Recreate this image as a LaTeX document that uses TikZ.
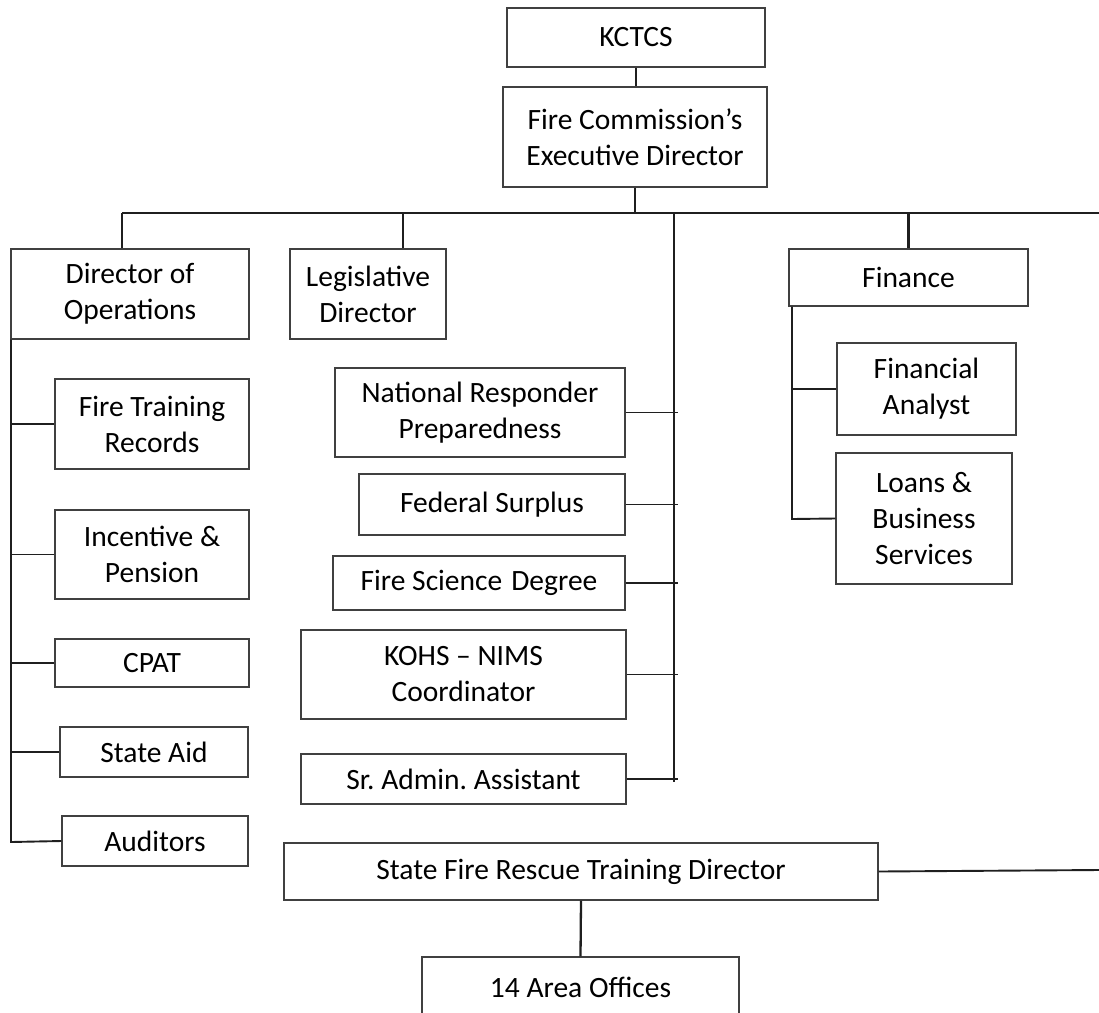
\documentclass[tikz,border=0pt]{standalone}
\usepackage{fontspec}
\setmainfont{Carlito}
\frenchspacing
\begin{document}
\begin{tikzpicture}[x=1pt,y=-1pt,
  box/.style={draw=black!75,line width=1.1pt,inner sep=0pt,align=center,
    font=\fontsize{29.5}{36}\selectfont},
  conn/.style={draw=black!88,line width=1.9pt},
  thick conn/.style={draw=black!88,line width=2.3pt}]
\useasboundingbox (0,0) rectangle (1099,1012);
% boxes
\node[box,minimum width=258,minimum height=59] (kctcs) at (636,37.5) {KCTCS};
\node[box,minimum width=264,minimum height=100] (fced) at (635,137) {Fire Commission’s\\Executive Director};
\node[box,minimum width=238,minimum height=90] (doo) at (130,294) {Director of\\Operations};
\node[box,minimum width=156,minimum height=90] (leg) at (368,294) {Legislative\\Director};
\node[box,minimum width=239,minimum height=57] (fin) at (908.5,277.5) {Finance};
\node[box,minimum width=194,minimum height=90] (ftr) at (152,424) {Fire Training\\Records};
\node[box,minimum width=194,minimum height=89] (inc) at (152,554.5) {Incentive \&\\Pension};
\node[box,minimum width=194,minimum height=48] (cpat) at (152,663) {CPAT};
\node[box,minimum width=188,minimum height=50] (said) at (154,752) {State Aid};
\node[box,minimum width=186,minimum height=50] (aud) at (155,841) {Auditors};
\node[box,minimum width=290,minimum height=89] (nrp) at (480,412.5) {National Responder\\Preparedness};
\node[box,minimum width=266,minimum height=61] (fed) at (492,504.5) {Federal Surplus};
\node[box,minimum width=292,minimum height=54] (fsd) at (479,583) {Fire Science\hspace{9pt}Degree};
\node[box,minimum width=325,minimum height=89] (kohs) at (463.5,674.5) {KOHS – NIMS\\Coordinator};
\node[box,minimum width=325,minimum height=50] (sra) at (463.5,779) {Sr. Admin. Assistant};
\node[box,minimum width=179,minimum height=92] (fa) at (926.5,389) {Financial\\Analyst};
\node[box,minimum width=176,minimum height=131] (loans) at (924,518.5) {Loans \&\\Business\\Services};
\node[box,minimum width=594,minimum height=57] (sfrtd) at (581,871.5) {State Fire Rescue Training Director};
\node[box,minimum width=317,minimum height=60] (area) at (580.5,987) {14 Area Offices};
% coordinates
\coordinate (busL) at (122,213);
\coordinate (busR) at (1099,213);
\coordinate (legdrop) at (403,213);
\coordinate (midtop) at (674,213);
\coordinate (midbot) at (674,782);
\coordinate (leftbot) at (11,842);
\coordinate (finbot) at (792,519);
\coordinate (sfright) at (1099,870);
% connectors
\draw[conn] (kctcs.south) -- (kctcs.south |- fced.north);
\draw[conn] (fced.south) -- (fced.south |- busL);
\draw[thick conn] (busL) -- (busR);
\draw[thick conn] (busL) -- (busL |- doo.north);
\draw[thick conn] (legdrop) -- (legdrop |- leg.north);
\draw[thick conn] (fin.north |- busL) -- (fin.north);
\draw[conn] (midtop) -- (midbot);
% director of operations branch
\draw[conn] (leftbot |- doo.south) -- (leftbot) -- (aud.west);
\draw[thick conn] (leftbot |- ftr.west) -- (ftr.west);
\draw[conn] (leftbot |- inc.west) -- (inc.west);
\draw[conn] (leftbot |- cpat.west) -- (cpat.west);
\draw[conn] (leftbot |- said.west) -- (said.west);
% middle branch
\draw[conn] (nrp.east) -- ++(52,0);
\draw[conn] (fed.east) -- ++(52,0);
\draw[conn] (fsd.east) -- ++(52,0);
\draw[conn] (kohs.east) -- ++(51,0);
\draw[conn] (sra.east) -- ++(51,0);
% finance branch
\draw[conn] (finbot |- fin.south) -- (finbot) -- (loans.west);
\draw[thick conn] (finbot |- fa.west) -- (fa.west);
% state fire rescue
\draw[conn] (sfrtd.east) -- (sfright);
\draw[thick conn] (sfrtd.south) -- (area.north);
\end{tikzpicture}
\end{document}
